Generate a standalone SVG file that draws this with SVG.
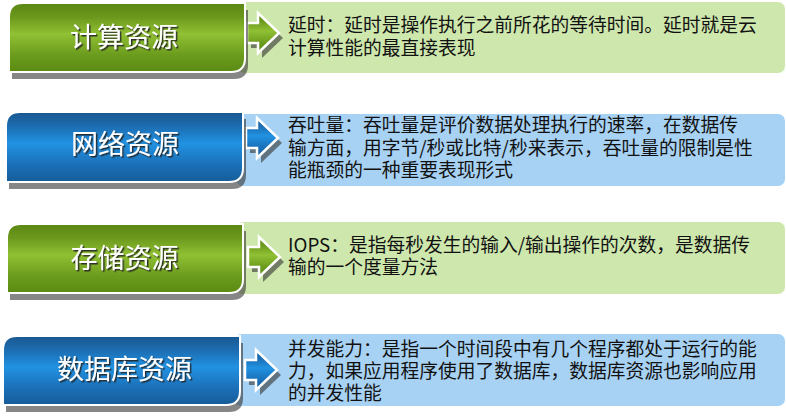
<svg xmlns="http://www.w3.org/2000/svg" width="786" height="417" viewBox="0 0 786 417">
<defs>
<linearGradient id="gG" x1="0" y1="0" x2="0" y2="1">
<stop offset="0" stop-color="#5a8614"/>
<stop offset="0.2" stop-color="#6b981c"/>
<stop offset="0.45" stop-color="#90c033"/>
<stop offset="0.75" stop-color="#6c9c1d"/>
<stop offset="1" stop-color="#5a8a12"/>
</linearGradient>
<linearGradient id="gB" x1="0" y1="0" x2="0" y2="1">
<stop offset="0" stop-color="#1a5890"/>
<stop offset="0.2" stop-color="#1c6cb0"/>
<stop offset="0.45" stop-color="#2192e2"/>
<stop offset="0.75" stop-color="#1b70b8"/>
<stop offset="1" stop-color="#165c98"/>
</linearGradient>
<filter id="ts" x="-10%" y="-20%" width="130%" height="150%">
<feDropShadow dx="1.5" dy="1.5" stdDeviation="0.6" flood-color="#222" flood-opacity="0.9"/>
</filter>
</defs>
<style>
.pg{fill:#cee7ad}
.pb{fill:#a8d2f3}
.sh{fill:#2e2e2e;opacity:0.58}
.bx{stroke:#fff;stroke-width:2}
.ar{stroke:#fff;stroke-width:2.5;stroke-linejoin:miter}
.ash{fill:#333;opacity:0.6}
.tt{font-family:"Noto Sans CJK SC","Liberation Sans",sans-serif;font-size:27px;fill:#fff;text-anchor:middle;filter:url(#ts)}
.tx{font-family:"Noto Sans CJK SC","Liberation Sans",sans-serif;font-size:18.75px;fill:#111}
</style>

<g id="row1">
<rect class="pg" x="238" y="2" width="547" height="71" rx="7"/>
<path class="ash" transform="translate(4,5)" d="M247,23 L258,23 L258,13 L279,33 L258,53 L258,43 L247,43 Z"/>
<path class="ar" fill="url(#gG)" d="M247,23 L258,23 L258,13 L279,33 L258,53 L258,43 L247,43 Z"/>
<path class="sh" transform="translate(3,7)" d="M9,72 L9,17 Q9,3 23,3 L245,3 L245,58 Q245,72 231,72 Z"/>
<path class="bx" fill="url(#gG)" d="M9,72 L9,17 Q9,3 23,3 L245,3 L245,58 Q245,72 231,72 Z"/>
<text class="tt" x="124" y="47">计算资源</text>
<text class="tx" x="288" y="32">延时：延时是操作执行之前所花的等待时间。延时就是云</text>
<text class="tx" x="288" y="55">计算性能的最直接表现</text>
</g>

<g id="row2">
<rect class="pb" x="236" y="114" width="549" height="72" rx="7"/>
<path class="ash" transform="translate(4,5)" d="M246,128 L257,128 L257,118 L278,138 L257,158 L257,148 L246,148 Z"/>
<path class="ar" fill="url(#gB)" d="M246,128 L257,128 L257,118 L278,138 L257,158 L257,148 L246,148 Z"/>
<path class="sh" transform="translate(3,7)" d="M6,182 L6,126 Q6,112 20,112 L243,112 L243,168 Q243,182 229,182 Z"/>
<path class="bx" fill="url(#gB)" d="M6,182 L6,126 Q6,112 20,112 L243,112 L243,168 Q243,182 229,182 Z"/>
<text class="tt" x="125" y="154">网络资源</text>
<text class="tx" x="288" y="132">吞吐量：吞吐量是评价数据处理执行的速率，在数据传</text>
<text class="tx" x="288" y="154.5">输方面，用字节/秒或比特/秒来表示，吞吐量的限制是性</text>
<text class="tx" x="288" y="177">能瓶颈的一种重要表现形式</text>
</g>

<g id="row3">
<rect class="pg" x="236" y="222" width="549" height="72" rx="7"/>
<path class="ash" transform="translate(4,5)" d="M248,247 L259,247 L259,237 L280,257 L259,277 L259,267 L248,267 Z"/>
<path class="ar" fill="url(#gG)" d="M248,247 L259,247 L259,237 L280,257 L259,277 L259,267 L248,267 Z"/>
<path class="sh" transform="translate(3,7)" d="M7,293 L7,238 Q7,224 21,224 L243,224 L243,279 Q243,293 229,293 Z"/>
<path class="bx" fill="url(#gG)" d="M7,293 L7,238 Q7,224 21,224 L243,224 L243,279 Q243,293 229,293 Z"/>
<text class="tt" x="124.5" y="268">存储资源</text>
<text class="tx" x="288" y="251.5">IOPS：是指每秒发生的输入/输出操作的次数，是数据传</text>
<text class="tx" x="288" y="274">输的一个度量方法</text>
</g>

<g id="row4">
<rect class="pb" x="234" y="334" width="551" height="72" rx="7"/>
<path class="ash" transform="translate(4,5)" d="M245,360 L256,360 L256,350 L277,370 L256,390 L256,380 L245,380 Z"/>
<path class="ar" fill="url(#gB)" d="M245,360 L256,360 L256,350 L277,370 L256,390 L256,380 L245,380 Z"/>
<path class="sh" transform="translate(3,7)" d="M3,405 L3,350 Q3,336 17,336 L240,336 L240,391 Q240,405 226,405 Z"/>
<path class="bx" fill="url(#gB)" d="M3,405 L3,350 Q3,336 17,336 L240,336 L240,391 Q240,405 226,405 Z"/>
<text class="tt" x="124.5" y="379">数据库资源</text>
<text class="tx" x="288" y="356">并发能力：是指一个时间段中有几个程序都处于运行的能</text>
<text class="tx" x="288" y="378">力，如果应用程序使用了数据库，数据库资源也影响应用</text>
<text class="tx" x="288" y="400">的并发性能</text>
</g>

<g id="connectors"></g>
</svg>
